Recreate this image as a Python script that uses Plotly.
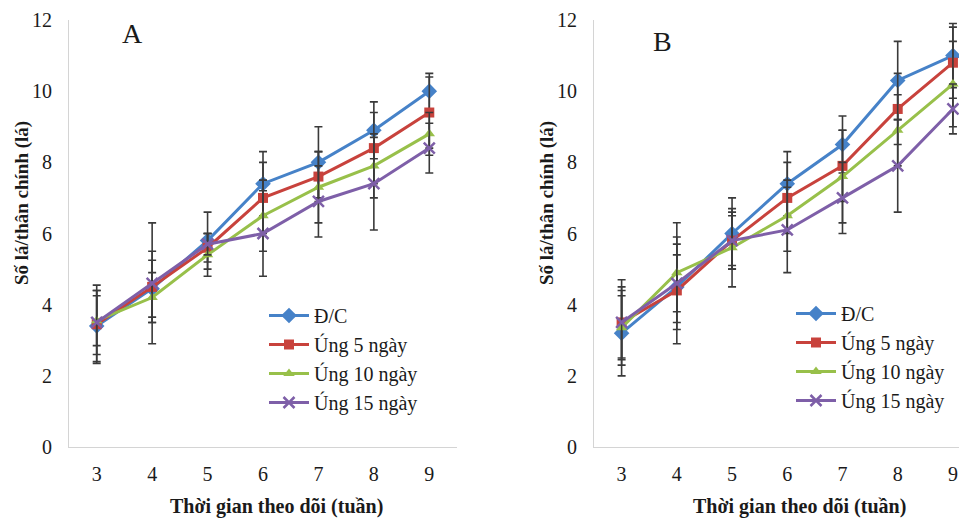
import plotly.graph_objects as go

W, H = 959, 519

weeks = [3, 4, 5, 6, 7, 8, 9]
series_names = ["Đ/C", "Úng 5 ngày", "Úng 10 ngày", "Úng 15 ngày"]

# Panel A
A_dc = [3.4, 4.45, 5.8, 7.4, 8.0, 8.9, 10.0]
A_u5 = [3.45, 4.5, 5.6, 7.0, 7.6, 8.4, 9.4]
A_u10 = [3.55, 4.2, 5.4, 6.5, 7.3, 7.9, 8.8]
A_u15 = [3.5, 4.6, 5.7, 6.0, 6.9, 7.4, 8.4]
A_dc_err = [1.0, 0.8, 0.8, 0.9, 1.0, 0.8, 0.5]
A_u5_err = [1.1, 1.0, 0.4, 1.0, 0.7, 1.0, 1.0]
A_u10_err = [0.7, 0.7, 0.6, 1.0, 1.0, 0.9, 0.6]
A_u15_err = [0.9, 1.7, 0.3, 1.2, 1.0, 1.3, 0.7]

# Panel B
B_dc = [3.2, 4.5, 6.0, 7.4, 8.5, 10.3, 11.0]
B_u5 = [3.5, 4.4, 5.8, 7.0, 7.9, 9.5, 10.8]
B_u10 = [3.35, 4.9, 5.6, 6.5, 7.6, 8.9, 10.2]
B_u15 = [3.5, 4.6, 5.8, 6.1, 7.0, 7.9, 9.5]
B_dc_err = [1.2, 1.2, 1.0, 0.9, 0.8, 1.1, 0.9]
B_u5_err = [1.2, 1.5, 0.8, 1.0, 1.0, 1.0, 1.0]
B_u10_err = [0.9, 1.4, 1.1, 1.0, 1.3, 1.0, 1.2]
B_u15_err = [1.0, 0.8, 0.7, 1.2, 1.0, 1.3, 0.7]

y_ticks = [0, 2, 4, 6, 8, 10, 12]

colors = ["#4682C8", "#C8423C", "#98C04A", "#7E5FA8"]
symbols = ["diamond", "square", "triangle-up", "x-thin"]
msizes = [12, 10, 10, 11]

FONT = "Liberation Serif"
TXT = "#1a1a1a"

def px_x(p):
    return p / W

def px_y(p):
    return (H - p) / H

fig = go.Figure()

panels = [
    ("x", "y", "legend", [A_dc, A_u5, A_u10, A_u15], [A_dc_err, A_u5_err, A_u10_err, A_u15_err]),
    ("x2", "y2", "legend2", [B_dc, B_u5, B_u10, B_u15], [B_dc_err, B_u5_err, B_u10_err, B_u15_err]),
]

for xa, ya, leg, vals, errs in panels:
    for i in range(4):
        sym = symbols[i]
        marker = dict(size=msizes[i], color=colors[i], symbol=sym)
        if sym == "x-thin":
            marker["line"] = dict(width=2.5, color=colors[i])
        fig.add_trace(go.Scatter(
            x=weeks, y=vals[i], name=series_names[i],
            mode="lines+markers",
            line=dict(color=colors[i], width=3),
            marker=marker,
            error_y=dict(type="data", array=errs[i], visible=True,
                         color="#3a3a3a", thickness=1.6, width=4),
            xaxis=xa, yaxis=ya, legend=leg,
        ))

axis_common = dict(
    showgrid=False, zeroline=False, showline=True, linecolor="#d4d4d4",
    linewidth=1.2, ticks="", automargin=False,
    tickfont=dict(family=FONT, size=20, color=TXT),
)

yb, yt = px_y(447), px_y(20)

fig.update_layout(
    width=W, height=H,
    margin=dict(l=0, r=0, t=0, b=0),
    paper_bgcolor="white", plot_bgcolor="white",
    showlegend=True,
    xaxis=dict(domain=[px_x(69), px_x(457)], range=[2.5, 9.5],
               tickvals=weeks, ticklabelstandoff=9, anchor="y", **axis_common),
    yaxis=dict(domain=[yb, yt], range=[0, 12], tickvals=y_ticks,
               ticklabelstandoff=12, anchor="x", **axis_common),
    xaxis2=dict(domain=[px_x(594), 1.0], range=[2.5, 9.11],
                tickvals=weeks, ticklabelstandoff=9, anchor="y2", **axis_common),
    yaxis2=dict(domain=[yb, yt], range=[0, 12], tickvals=y_ticks,
                ticklabelstandoff=12, anchor="x2", **axis_common),
    legend=dict(x=px_x(264), y=px_y(296), xanchor="left", yanchor="top",
                bgcolor="rgba(0,0,0,0)", font=dict(family=FONT, size=20, color=TXT),
                tracegroupgap=0, itemwidth=40),
    legend2=dict(x=px_x(791), y=px_y(294), xanchor="left", yanchor="top",
                 bgcolor="rgba(0,0,0,0)", font=dict(family=FONT, size=20, color=TXT),
                 tracegroupgap=0, itemwidth=40),
)

annots = [
    dict(text="A", x=px_x(132), y=px_y(33), font=dict(family=FONT, size=28, color=TXT)),
    dict(text="B", x=px_x(662), y=px_y(42), font=dict(family=FONT, size=28, color=TXT)),
    dict(text="<b>Thời gian theo dõi (tuần)</b>", x=px_x(276), y=px_y(506),
         font=dict(family=FONT, size=20, color=TXT)),
    dict(text="<b>Thời gian theo dõi (tuần)</b>", x=px_x(799), y=px_y(506),
         font=dict(family=FONT, size=20, color=TXT)),
    dict(text="<b>Số lá/thân chính (lá)</b>", x=px_x(22), y=px_y(203), textangle=-90,
         font=dict(family=FONT, size=19, color=TXT)),
    dict(text="<b>Số lá/thân chính (lá)</b>", x=px_x(547), y=px_y(203), textangle=-90,
         font=dict(family=FONT, size=19, color=TXT)),
]
for a in annots:
    fig.add_annotation(xref="paper", yref="paper", showarrow=False,
                       xanchor="center", yanchor="middle", **a)

fig.write_html("out.html", config={"displayModeBar": False},
               post_script="document.body.style.margin='0';document.body.style.overflow='hidden';")
